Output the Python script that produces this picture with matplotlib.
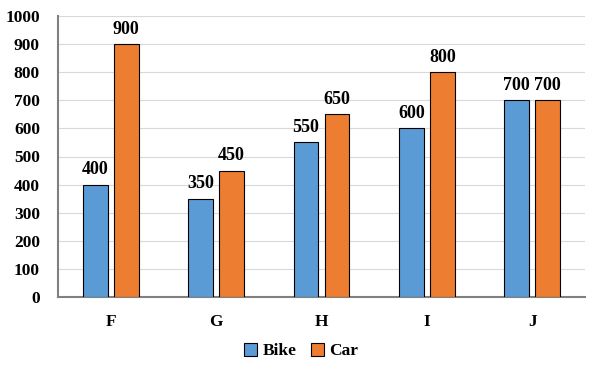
import matplotlib
matplotlib.use("Agg")
import matplotlib.pyplot as plt
import numpy as np

categories = ["F", "G", "H", "I", "J"]
bike = [400, 350, 550, 600, 700]
car = [900, 450, 650, 800, 700]
yticks = [0, 100, 200, 300, 400, 500, 600, 700, 800, 900, 1000]

plt.rcParams['font.family'] = ['Liberation Serif', 'DejaVu Serif']
plt.rcParams['font.weight'] = 'bold'

fig = plt.figure(figsize=(5.98, 3.65), dpi=100)
ax = fig.add_axes([58/598, 1 - 297/365, (585-58)/598, (297-16)/365])

x = np.arange(len(categories))
w = 0.237
off = 0.147
b1 = ax.bar(x - off, bike, w, color="#5B9BD5", edgecolor="black", linewidth=0.8, label="Bike", zorder=3)
b2 = ax.bar(x + off, car, w, color="#ED7D31", edgecolor="black", linewidth=0.8, label="Car", zorder=3)
for bars, vals in ((b1, bike), (b2, car)):
    for r, v in zip(bars, vals):
        ax.text(r.get_x() + r.get_width()/2, v + 22, str(v), ha="center", va="bottom",
                fontsize=13, fontweight="bold")

ax.set_xlim(-0.5, len(categories) - 0.5)
ax.set_ylim(0, 1000)
ax.set_yticks(yticks)
ax.set_yticklabels([str(t) for t in yticks], fontsize=12.5, fontweight="bold")
ax.set_xticks(x)
ax.set_xticklabels(categories, fontsize=12.5, fontweight="bold")
ax.tick_params(axis="both", length=0)
ax.tick_params(axis="x", pad=12)
ax.tick_params(axis="y", pad=13)
ax.grid(axis="y", color="#D9D9D9", linewidth=0.8, zorder=0)
for s in ("top", "right"):
    ax.spines[s].set_visible(False)
for s in ("left", "bottom"):
    ax.spines[s].set_color("#808080")
    ax.spines[s].set_linewidth(1.5)

fig.legend(handles=[b1, b2], labels=["Bike", "Car"], loc="center", bbox_to_anchor=(301/598, 1 - 351/365),
           ncol=2, frameon=False, handlelength=0.8, handleheight=0.8,
           handletextpad=0.3, columnspacing=0.8, prop={"weight": "bold", "size": 12.5})

fig.savefig("out.png", dpi=100)
